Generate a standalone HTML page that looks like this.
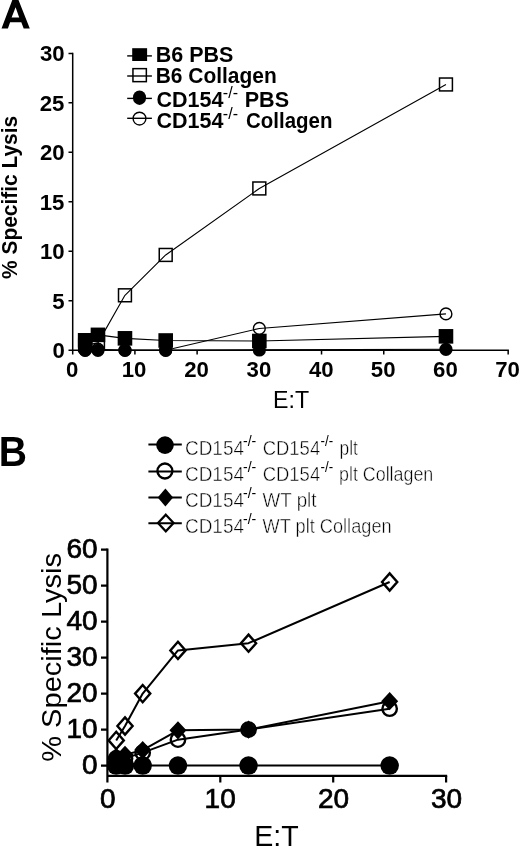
<!DOCTYPE html>
<html><head><meta charset="utf-8"><title>Specific Lysis</title>
<style>
html,body{margin:0;padding:0;background:#fff;width:520px;height:854px;overflow:hidden;}
svg{display:block;will-change:transform;}
</style></head>
<body>
<svg width="520" height="854" viewBox="0 0 520 854">
<rect width="520" height="854" fill="#fff"/>
<path d="M72.7 52.71 V354.40 M68.50 350.2 H508.87" stroke="#000" stroke-width="1.5" fill="none"/>
<path d="M68.50 300.74 H72.7 M68.50 251.27 H72.7 M68.50 201.80 H72.7 M68.50 152.34 H72.7 M68.50 102.87 H72.7 M68.50 53.41 H72.7 M134.91 350.2 V354.40 M197.12 350.2 V354.40 M259.33 350.2 V354.40 M321.54 350.2 V354.40 M383.75 350.2 V354.40 M445.96 350.2 V354.40 M508.17 350.2 V354.40" stroke="#000" stroke-width="1.5" fill="none"/>
<g transform="translate(-1.19 466.00) scale(0.9773 1.0400)"><text font-family="'Liberation Sans', sans-serif" font-weight="bold" font-size="40">B</text></g>
<path d="M1.5 28.6 L12.3 0.1 L18.5 0.1 L29.8 28.6 L23.7 28.6 L21.3 22.2 L10.1 22.2 L7.9 28.6 Z M15.6 7.2 L11.6 17.5 L19.2 17.5 Z" fill="#000" fill-rule="evenodd"/>
<g transform="translate(52.44 358.18) scale(1.0568 1.0867)"><text font-family="'Liberation Sans', sans-serif" font-weight="bold" font-size="21">0</text></g>
<g transform="translate(52.17 308.58) scale(1.0568 1.0867)"><text font-family="'Liberation Sans', sans-serif" font-weight="bold" font-size="21">5</text></g>
<g transform="translate(40.02 259.25) scale(1.0568 1.0867)"><text font-family="'Liberation Sans', sans-serif" font-weight="bold" font-size="21">10</text></g>
<g transform="translate(39.76 209.65) scale(1.0568 1.0867)"><text font-family="'Liberation Sans', sans-serif" font-weight="bold" font-size="21">15</text></g>
<g transform="translate(40.02 160.32) scale(1.0568 1.0867)"><text font-family="'Liberation Sans', sans-serif" font-weight="bold" font-size="21">20</text></g>
<g transform="translate(39.76 110.85) scale(1.0568 1.0867)"><text font-family="'Liberation Sans', sans-serif" font-weight="bold" font-size="21">25</text></g>
<g transform="translate(40.02 61.39) scale(1.0568 1.0867)"><text font-family="'Liberation Sans', sans-serif" font-weight="bold" font-size="21">30</text></g>
<g transform="translate(66.02 377.43) scale(1.0568 1.0867)"><text font-family="'Liberation Sans', sans-serif" font-weight="bold" font-size="21">0</text></g>
<g transform="translate(121.76 377.43) scale(1.0568 1.0867)"><text font-family="'Liberation Sans', sans-serif" font-weight="bold" font-size="21">10</text></g>
<g transform="translate(184.23 377.43) scale(1.0568 1.0867)"><text font-family="'Liberation Sans', sans-serif" font-weight="bold" font-size="21">20</text></g>
<g transform="translate(246.58 377.43) scale(1.0568 1.0867)"><text font-family="'Liberation Sans', sans-serif" font-weight="bold" font-size="21">30</text></g>
<g transform="translate(308.92 377.43) scale(1.0568 1.0867)"><text font-family="'Liberation Sans', sans-serif" font-weight="bold" font-size="21">40</text></g>
<g transform="translate(370.86 377.43) scale(1.0568 1.0867)"><text font-family="'Liberation Sans', sans-serif" font-weight="bold" font-size="21">50</text></g>
<g transform="translate(433.07 377.43) scale(1.0568 1.0867)"><text font-family="'Liberation Sans', sans-serif" font-weight="bold" font-size="21">60</text></g>
<g transform="translate(495.15 377.43) scale(1.0568 1.0867)"><text font-family="'Liberation Sans', sans-serif" font-weight="bold" font-size="21">70</text></g>
<g transform="translate(273.06 408.10) scale(1.0531 1.0600)"><text font-family="'Liberation Sans', sans-serif" font-size="22">E:T</text></g>
<g transform="translate(17.11 278.90) rotate(-90) scale(0.9951 1.0564)"><text font-family="'Liberation Sans', sans-serif" font-weight="bold" font-size="21">% Specific Lysis</text></g>
<polyline points="85.14,350.20 97.96,349.21 124.96,350.20 165.70,350.20 259.33,328.44 445.96,313.89" fill="none" stroke="#000" stroke-width="1.1" stroke-linejoin="round"/>
<polyline points="85.14,345.25 97.96,342.88 124.96,295.29 165.70,254.93 259.33,188.45 445.96,84.47" fill="none" stroke="#000" stroke-width="1.1" stroke-linejoin="round"/>
<polyline points="85.14,340.31 97.96,334.87 124.96,338.33 165.70,340.50 259.33,341.00 445.96,336.35" fill="none" stroke="#000" stroke-width="1.1" stroke-linejoin="round"/>
<rect x="78.69" y="338.80" width="12.90" height="12.90" fill="none" stroke="#000" stroke-width="1.5"/>
<rect x="91.51" y="336.43" width="12.90" height="12.90" fill="none" stroke="#000" stroke-width="1.5"/>
<rect x="118.51" y="288.84" width="12.90" height="12.90" fill="none" stroke="#000" stroke-width="1.5"/>
<rect x="159.25" y="248.48" width="12.90" height="12.90" fill="none" stroke="#000" stroke-width="1.5"/>
<rect x="252.88" y="182.00" width="12.90" height="12.90" fill="none" stroke="#000" stroke-width="1.5"/>
<rect x="439.51" y="78.02" width="12.90" height="12.90" fill="none" stroke="#000" stroke-width="1.5"/>
<circle cx="85.14" cy="350.20" r="5.90" fill="none" stroke="#000" stroke-width="1.4"/>
<circle cx="97.96" cy="349.21" r="5.90" fill="none" stroke="#000" stroke-width="1.4"/>
<circle cx="124.96" cy="350.20" r="5.90" fill="none" stroke="#000" stroke-width="1.4"/>
<circle cx="165.70" cy="350.20" r="5.90" fill="none" stroke="#000" stroke-width="1.4"/>
<circle cx="259.33" cy="328.44" r="5.90" fill="none" stroke="#000" stroke-width="1.4"/>
<circle cx="445.96" cy="313.89" r="5.90" fill="none" stroke="#000" stroke-width="1.4"/>
<rect x="77.84" y="333.01" width="14.6" height="14.6" fill="#000"/>
<rect x="90.66" y="327.57" width="14.6" height="14.6" fill="#000"/>
<rect x="117.66" y="331.03" width="14.6" height="14.6" fill="#000"/>
<rect x="158.40" y="333.20" width="14.6" height="14.6" fill="#000"/>
<rect x="252.03" y="333.70" width="14.6" height="14.6" fill="#000"/>
<rect x="438.66" y="329.05" width="14.6" height="14.6" fill="#000"/>
<circle cx="85.14" cy="350.30" r="6.6" fill="#000"/>
<circle cx="97.96" cy="350.30" r="6.6" fill="#000"/>
<circle cx="124.96" cy="350.30" r="6.6" fill="#000"/>
<circle cx="165.70" cy="350.30" r="6.6" fill="#000"/>
<circle cx="259.33" cy="350.00" r="6.6" fill="#000"/>
<circle cx="445.96" cy="349.31" r="6.6" fill="#000"/>
<polyline points="85.14,350.20 97.96,350.20 124.96,350.20 165.70,350.20 259.33,349.90 445.96,349.21" fill="none" stroke="#000" stroke-width="1.1" stroke-linejoin="round"/>
<path d="M127.2 55.9 H151.9" stroke="#000" stroke-width="1.4"/>
<path d="M127.2 76.0 H151.9" stroke="#000" stroke-width="1.4"/>
<path d="M127.2 98.4 H151.9" stroke="#000" stroke-width="1.4"/>
<path d="M127.2 118.3 H151.9" stroke="#000" stroke-width="1.4"/>
<rect x="132.2" y="48.2" width="14.9" height="12.8" fill="#000"/>
<rect x="132.95" y="68.65" width="13.4" height="13.0" fill="none" stroke="#000" stroke-width="1.5"/>
<ellipse cx="139.5" cy="97.7" rx="6.6" ry="7.2" fill="#000"/>
<circle cx="139.50" cy="118.60" r="6.40" fill="none" stroke="#000" stroke-width="1.4"/>
<g transform="translate(155.76 62.20) scale(1.0245 1.0621)"><text font-family="'Liberation Sans', sans-serif" font-weight="bold" font-size="21">B6 PBS</text></g>
<g transform="translate(155.70 82.70) scale(0.9975 1.0621)"><text font-family="'Liberation Sans', sans-serif" font-weight="bold" font-size="21">B6 Collagen</text></g>
<g transform="translate(156.43 106.90) scale(1.0248 1.0621)"><text font-family="'Liberation Sans', sans-serif" font-weight="bold" font-size="21">CD154</text></g>
<g transform="translate(244.66 106.90) scale(1.0282 1.0621)"><text font-family="'Liberation Sans', sans-serif" font-weight="bold" font-size="21">PBS</text></g>
<g transform="translate(156.43 127.50) scale(1.0248 1.0621)"><text font-family="'Liberation Sans', sans-serif" font-weight="bold" font-size="21">CD154</text></g>
<g transform="translate(245.97 127.50) scale(0.9752 1.0621)"><text font-family="'Liberation Sans', sans-serif" font-weight="bold" font-size="21">Collagen</text></g>
<g transform="translate(222.83 98.10) scale(1.1500 1.1500)"><text font-family="'Liberation Sans', sans-serif" font-size="14">-/-</text></g>
<g transform="translate(222.83 119.10) scale(1.1500 1.1800)"><text font-family="'Liberation Sans', sans-serif" font-size="14">-/-</text></g>
<path d="M107.4 548.50 V782.6 M106.30 775.9 H447.20" stroke="#000" stroke-width="2.2" fill="none"/>
<path d="M101.00 765.60 H107.4 M101.00 729.60 H107.4 M101.00 693.60 H107.4 M101.00 657.60 H107.4 M101.00 621.60 H107.4 M101.00 585.60 H107.4 M101.00 549.60 H107.4 M220.30 775.9 V782.6 M333.20 775.9 V782.6 M446.10 775.9 V782.6" stroke="#000" stroke-width="2.2" fill="none"/>
<g transform="translate(82.02 773.70) scale(1.0372 0.9924)"><text font-family="'Liberation Sans', sans-serif" stroke="#000" stroke-width="0.7" font-size="27">0</text></g>
<g transform="translate(66.46 737.70) scale(1.0372 0.9924)"><text font-family="'Liberation Sans', sans-serif" stroke="#000" stroke-width="0.7" font-size="27">10</text></g>
<g transform="translate(66.46 701.70) scale(1.0372 0.9924)"><text font-family="'Liberation Sans', sans-serif" stroke="#000" stroke-width="0.7" font-size="27">20</text></g>
<g transform="translate(66.46 665.70) scale(1.0372 0.9924)"><text font-family="'Liberation Sans', sans-serif" stroke="#000" stroke-width="0.7" font-size="27">30</text></g>
<g transform="translate(66.46 629.70) scale(1.0372 0.9924)"><text font-family="'Liberation Sans', sans-serif" stroke="#000" stroke-width="0.7" font-size="27">40</text></g>
<g transform="translate(66.46 593.70) scale(1.0372 0.9924)"><text font-family="'Liberation Sans', sans-serif" stroke="#000" stroke-width="0.7" font-size="27">50</text></g>
<g transform="translate(66.46 557.70) scale(1.0372 0.9924)"><text font-family="'Liberation Sans', sans-serif" stroke="#000" stroke-width="0.7" font-size="27">60</text></g>
<g transform="translate(100.02 808.30) scale(1.0372 0.9924)"><text font-family="'Liberation Sans', sans-serif" stroke="#000" stroke-width="0.7" font-size="27">0</text></g>
<g transform="translate(204.62 808.30) scale(1.0372 0.9924)"><text font-family="'Liberation Sans', sans-serif" stroke="#000" stroke-width="0.7" font-size="27">10</text></g>
<g transform="translate(317.91 808.30) scale(1.0372 0.9924)"><text font-family="'Liberation Sans', sans-serif" stroke="#000" stroke-width="0.7" font-size="27">20</text></g>
<g transform="translate(430.94 808.30) scale(1.0372 0.9924)"><text font-family="'Liberation Sans', sans-serif" stroke="#000" stroke-width="0.7" font-size="27">30</text></g>
<g transform="translate(254.30 845.50) scale(1.0209 1.0390)"><text font-family="'Liberation Sans', sans-serif" font-size="28">E:T</text></g>
<g transform="translate(61.39 761.78) rotate(-90) scale(1.0766 1.0200)"><text font-family="'Liberation Sans', sans-serif" font-size="27">% Specific Lysis</text></g>
<polyline points="116.21,740.40 125.01,726.00 142.68,693.60 177.96,650.40 248.53,643.20 389.65,582.00" fill="none" stroke="#000" stroke-width="2.0" stroke-linejoin="round"/>
<polyline points="116.21,756.96 125.01,754.80 142.68,750.12 177.96,730.32 248.53,729.60 389.65,701.16" fill="none" stroke="#000" stroke-width="2.0" stroke-linejoin="round"/>
<polyline points="116.21,758.40 125.01,758.40 142.68,752.64 177.96,739.68 248.53,729.60 389.65,708.72" fill="none" stroke="#000" stroke-width="2.0" stroke-linejoin="round"/>
<polyline points="116.21,765.60 125.01,765.60 142.68,765.60 177.96,765.60 248.53,765.60 389.65,765.60" fill="none" stroke="#000" stroke-width="2.0" stroke-linejoin="round"/>
<path d="M116.21 731.81 L123.80 740.40 L116.21 748.99 L108.61 740.40Z" fill="none" stroke="#000" stroke-width="2.4" stroke-linejoin="miter"/>
<path d="M125.01 717.41 L132.61 726.00 L125.01 734.59 L117.41 726.00Z" fill="none" stroke="#000" stroke-width="2.4" stroke-linejoin="miter"/>
<path d="M142.68 685.01 L150.28 693.60 L142.68 702.19 L135.08 693.60Z" fill="none" stroke="#000" stroke-width="2.4" stroke-linejoin="miter"/>
<path d="M177.96 641.81 L185.56 650.40 L177.96 658.99 L170.36 650.40Z" fill="none" stroke="#000" stroke-width="2.4" stroke-linejoin="miter"/>
<path d="M248.53 634.61 L256.12 643.20 L248.53 651.79 L240.93 643.20Z" fill="none" stroke="#000" stroke-width="2.4" stroke-linejoin="miter"/>
<path d="M389.65 573.41 L397.25 582.00 L389.65 590.59 L382.05 582.00Z" fill="none" stroke="#000" stroke-width="2.4" stroke-linejoin="miter"/>
<circle cx="116.21" cy="758.40" r="7.20" fill="none" stroke="#000" stroke-width="2.4"/>
<circle cx="125.01" cy="758.40" r="7.20" fill="none" stroke="#000" stroke-width="2.4"/>
<circle cx="142.68" cy="752.64" r="7.20" fill="none" stroke="#000" stroke-width="2.4"/>
<circle cx="177.96" cy="739.68" r="7.20" fill="none" stroke="#000" stroke-width="2.4"/>
<circle cx="248.53" cy="729.60" r="7.20" fill="none" stroke="#000" stroke-width="2.4"/>
<circle cx="389.65" cy="708.72" r="7.20" fill="none" stroke="#000" stroke-width="2.4"/>
<path d="M116.21 747.86 L124.71 756.96 L116.21 766.06 L107.71 756.96Z" fill="#000"/>
<path d="M125.01 745.70 L133.51 754.80 L125.01 763.90 L116.51 754.80Z" fill="#000"/>
<path d="M142.68 741.02 L151.18 750.12 L142.68 759.22 L134.18 750.12Z" fill="#000"/>
<path d="M177.96 721.22 L186.46 730.32 L177.96 739.42 L169.46 730.32Z" fill="#000"/>
<path d="M248.53 720.50 L257.02 729.60 L248.53 738.70 L240.03 729.60Z" fill="#000"/>
<path d="M389.65 692.06 L398.15 701.16 L389.65 710.26 L381.15 701.16Z" fill="#000"/>
<circle cx="116.21" cy="765.60" r="9.25" fill="#000"/>
<circle cx="125.01" cy="765.60" r="9.25" fill="#000"/>
<circle cx="142.68" cy="765.60" r="9.25" fill="#000"/>
<circle cx="177.96" cy="765.60" r="9.25" fill="#000"/>
<circle cx="248.53" cy="765.60" r="9.25" fill="#000"/>
<circle cx="389.65" cy="765.60" r="9.25" fill="#000"/>
<path d="M148.4 444.6 H181.8" stroke="#000" stroke-width="2"/>
<path d="M148.4 471.5 H181.8" stroke="#000" stroke-width="2"/>
<path d="M148.4 497.6 H181.8" stroke="#000" stroke-width="2"/>
<path d="M148.4 523.3 H181.8" stroke="#000" stroke-width="2"/>
<circle cx="165.00" cy="445.10" r="8.8" fill="#000"/>
<circle cx="164.90" cy="471.00" r="7.45" fill="none" stroke="#000" stroke-width="2.4"/>
<path d="M165.40 488.40 L173.10 497.50 L165.40 506.60 L157.70 497.50Z" fill="#000"/>
<path d="M165.80 514.71 L173.59 523.00 L165.80 531.29 L158.01 523.00Z" fill="none" stroke="#000" stroke-width="2.2" stroke-linejoin="miter"/>
<g transform="translate(184.95 454.60) scale(1.0000 1.0296)"><text font-family="'Liberation Sans', sans-serif" stroke="#fff" stroke-width="0.45" font-size="19">CD154</text></g>
<g transform="translate(243.00 445.90) scale(1.0083 0.9800)"><text font-family="'Liberation Sans', sans-serif" font-size="14">-/-</text></g>
<g transform="translate(184.95 480.80) scale(1.0000 1.0296)"><text font-family="'Liberation Sans', sans-serif" stroke="#fff" stroke-width="0.45" font-size="19">CD154</text></g>
<g transform="translate(243.00 472.10) scale(1.0083 0.9800)"><text font-family="'Liberation Sans', sans-serif" font-size="14">-/-</text></g>
<g transform="translate(184.95 506.90) scale(1.0000 1.0296)"><text font-family="'Liberation Sans', sans-serif" stroke="#fff" stroke-width="0.45" font-size="19">CD154</text></g>
<g transform="translate(243.00 498.20) scale(1.0083 0.9800)"><text font-family="'Liberation Sans', sans-serif" font-size="14">-/-</text></g>
<g transform="translate(184.95 532.60) scale(1.0000 1.0296)"><text font-family="'Liberation Sans', sans-serif" stroke="#fff" stroke-width="0.45" font-size="19">CD154</text></g>
<g transform="translate(243.00 523.90) scale(1.0083 0.9800)"><text font-family="'Liberation Sans', sans-serif" font-size="14">-/-</text></g>
<g transform="translate(262.69 454.60) scale(0.9719 1.0296)"><text font-family="'Liberation Sans', sans-serif" stroke="#fff" stroke-width="0.45" font-size="19">CD154</text></g>
<g transform="translate(320.62 445.90) scale(0.9500 0.9800)"><text font-family="'Liberation Sans', sans-serif" font-size="14">-/-</text></g>
<g transform="translate(339.53 454.60) scale(0.9151 1.0296)"><text font-family="'Liberation Sans', sans-serif" stroke="#fff" stroke-width="0.45" font-size="19">plt</text></g>
<g transform="translate(262.69 480.80) scale(0.9719 1.0296)"><text font-family="'Liberation Sans', sans-serif" stroke="#fff" stroke-width="0.45" font-size="19">CD154</text></g>
<g transform="translate(320.62 472.10) scale(0.9500 0.9800)"><text font-family="'Liberation Sans', sans-serif" font-size="14">-/-</text></g>
<g transform="translate(338.99 480.80) scale(0.9409 1.0296)"><text font-family="'Liberation Sans', sans-serif" stroke="#fff" stroke-width="0.45" font-size="19">plt Collagen</text></g>
<g transform="translate(262.61 506.90) scale(0.9879 1.0296)"><text font-family="'Liberation Sans', sans-serif" stroke="#fff" stroke-width="0.45" font-size="19">WT plt</text></g>
<g transform="translate(262.62 532.60) scale(0.9574 1.0296)"><text font-family="'Liberation Sans', sans-serif" stroke="#fff" stroke-width="0.45" font-size="19">WT plt Collagen</text></g>
</svg>
</body></html>
